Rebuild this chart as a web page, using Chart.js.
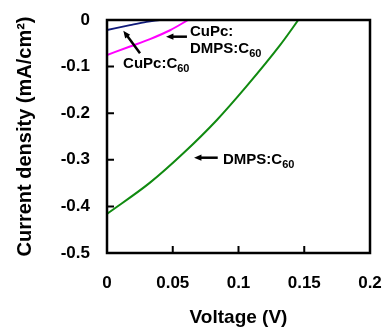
<!DOCTYPE html>
<html>
<head>
<meta charset="utf-8">
<script src="https://cdn.jsdelivr.net/npm/chart.js@4.4.0/dist/chart.umd.min.js"></script>
<style>
    html, body { margin: 0; padding: 0; background: #fff; }
    #wrap { width: 384px; height: 329px; }
</style>
</head>
<body>
<div id="wrap"><canvas id="jvChart" width="384" height="329"></canvas></div>
<script>
// J-V curves, voltage in V, current density in mA/cm2
const cupcVoltage = [0, 0.0175, 0.03, 0.04];
const cupcCurrent = [-0.0215, -0.011, -0.004, 0];

const mixVoltage = [0, 0.0175, 0.0327, 0.048, 0.0616];
const mixCurrent = [-0.075, -0.057, -0.041, -0.022, 0];

const dmpsVoltage = [0, 0.0327, 0.058, 0.0834, 0.1062, 0.1316, 0.1455];
const dmpsCurrent = [-0.416, -0.349, -0.286, -0.215, -0.142, -0.054, 0];

const xTicks = [0, 0.05, 0.1, 0.15, 0.2];
const yTicks = [0, -0.1, -0.2, -0.3, -0.4, -0.5];

// annotation labels, anchored in data units
const labels = [
    { v: 0.0631, j: -0.0343, text: 'CuPc:', sub: '', size: 15 },
    { v: 0.0631, j: -0.0708, text: 'DMPS:C', sub: '60', size: 15 },
    { v: 0.0122, j: -0.103, text: 'CuPc:C', sub: '60', size: 15 },
    { v: 0.0882, j: -0.309, text: 'DMPS:C', sub: '60', size: 15 }
];
// arrows: tail -> tip
const arrows = [
    { v0: 0.0608, j0: -0.0358, v1: 0.0449, j1: -0.0358 },
    { v0: 0.0251, j0: -0.0715, v1: 0.0124, j1: -0.023 },
    { v0: 0.0842, j0: -0.2955, v1: 0.0662, j1: -0.2955 }
];

function toPoints(xs, ys) {
    return xs.map((x, i) => ({ x: x, y: ys[i] }));
}

const fontFamily = '"Liberation Sans", Arial, sans-serif';

const framePlugin = {
    id: 'frame',
    afterDatasetsDraw(chart) {
        const ctx = chart.ctx;
        const a = chart.chartArea;
        const xs = chart.scales.x;
        const ys = chart.scales.y;
        ctx.save();
        ctx.strokeStyle = '#000';
        ctx.lineWidth = 2.5;
        ctx.strokeRect(a.left, a.top, a.right - a.left, a.bottom - a.top);

        // inner ticks
        ctx.lineWidth = 2;
        ctx.beginPath();
        xTicks.forEach(t => {
            const px = xs.getPixelForValue(t);
            ctx.moveTo(px, a.bottom);
            ctx.lineTo(px, a.bottom - 7);
        });
        yTicks.forEach(t => {
            const py = ys.getPixelForValue(t);
            ctx.moveTo(a.left, py);
            ctx.lineTo(a.left + 7, py);
        });
        ctx.stroke();

        // arrows
        ctx.fillStyle = '#000';
        arrows.forEach(ar => {
            const x0 = xs.getPixelForValue(ar.v0), y0 = ys.getPixelForValue(ar.j0);
            const x1 = xs.getPixelForValue(ar.v1), y1 = ys.getPixelForValue(ar.j1);
            const ang = Math.atan2(y1 - y0, x1 - x0);
            const head = 8;
            ctx.lineWidth = 2.5;
            ctx.beginPath();
            ctx.moveTo(x0, y0);
            ctx.lineTo(x1 - Math.cos(ang) * head * 0.8, y1 - Math.sin(ang) * head * 0.8);
            ctx.stroke();
            ctx.beginPath();
            ctx.moveTo(x1, y1);
            ctx.lineTo(x1 - head * Math.cos(ang - 0.4), y1 - head * Math.sin(ang - 0.4));
            ctx.lineTo(x1 - head * Math.cos(ang + 0.4), y1 - head * Math.sin(ang + 0.4));
            ctx.closePath();
            ctx.fill();
        });

        // labels with subscripts
        ctx.textBaseline = 'alphabetic';
        ctx.textAlign = 'left';
        labels.forEach(lb => {
            const px = xs.getPixelForValue(lb.v);
            const py = ys.getPixelForValue(lb.j);
            ctx.font = 'bold ' + lb.size + 'px ' + fontFamily;
            ctx.fillText(lb.text, px, py);
            if (lb.sub) {
                const w = ctx.measureText(lb.text).width;
                ctx.font = 'bold ' + Math.round(lb.size * 0.7) + 'px ' + fontFamily;
                ctx.fillText(lb.sub, px + w, py + 4);
            }
        });
        ctx.restore();
    }
};

const ctx = document.getElementById('jvChart');
new Chart(ctx, {
    type: 'scatter',
    data: {
        datasets: [
            {
                label: 'CuPc:C60',
                data: toPoints(cupcVoltage, cupcCurrent),
                borderColor: '#101a7a',
                borderWidth: 2,
                showLine: true,
                pointRadius: 0,
                cubicInterpolationMode: 'monotone'
            },
            {
                label: 'CuPc:DMPS:C60',
                data: toPoints(mixVoltage, mixCurrent),
                borderColor: '#ff00ff',
                borderWidth: 2,
                showLine: true,
                pointRadius: 0,
                cubicInterpolationMode: 'monotone'
            },
            {
                label: 'DMPS:C60',
                data: toPoints(dmpsVoltage, dmpsCurrent),
                borderColor: '#108a10',
                borderWidth: 2,
                showLine: true,
                pointRadius: 0,
                cubicInterpolationMode: 'monotone'
            }
        ]
    },
    options: {
        responsive: false,
        animation: false,
        layout: { padding: { top: 20, right: 14, left: 0, bottom: 0 } },
        plugins: {
            legend: { display: false },
            tooltip: { enabled: false }
        },
        scales: {
            x: {
                type: 'linear',
                min: 0,
                max: 0.2,
                afterBuildTicks: scale => { scale.ticks = xTicks.map(v => ({ value: v })); },
                afterFit: scale => {
                    scale.height = 76;
                    scale.paddingLeft = 0;
                    scale.paddingRight = 0;
                },
                grid: { display: false, drawTicks: false },
                border: { display: false },
                ticks: {
                    padding: 20,
                    color: '#000',
                    maxRotation: 0,
                    font: { family: fontFamily, size: 17, weight: 'bold' },
                    callback: v => String(parseFloat(v.toFixed(2)))
                },
                title: {
                    display: true,
                    text: 'Voltage (V)',
                    color: '#000',
                    padding: { top: 0, bottom: 0 },
                    font: { family: fontFamily, size: 19, weight: 'bold' }
                }
            },
            y: {
                type: 'linear',
                min: -0.5,
                max: 0,
                afterBuildTicks: scale => { scale.ticks = yTicks.map(v => ({ value: v })); },
                afterFit: scale => {
                    scale.width = 107;
                    scale.paddingTop = 0;
                    scale.paddingBottom = 0;
                },
                grid: { display: false, drawTicks: false },
                border: { display: false },
                ticks: {
                    padding: 17,
                    color: '#000',
                    font: { family: fontFamily, size: 17, weight: 'bold' },
                    callback: v => String(parseFloat(v.toFixed(2)))
                },
                title: {
                    display: true,
                    text: 'Current density (mA/cm²)',
                    color: '#000',
                    padding: { top: 13, bottom: 0 },
                    font: { family: fontFamily, size: 20, weight: 'bold' }
                }
            }
        }
    },
    plugins: [framePlugin]
});
</script>
</body>
</html>
